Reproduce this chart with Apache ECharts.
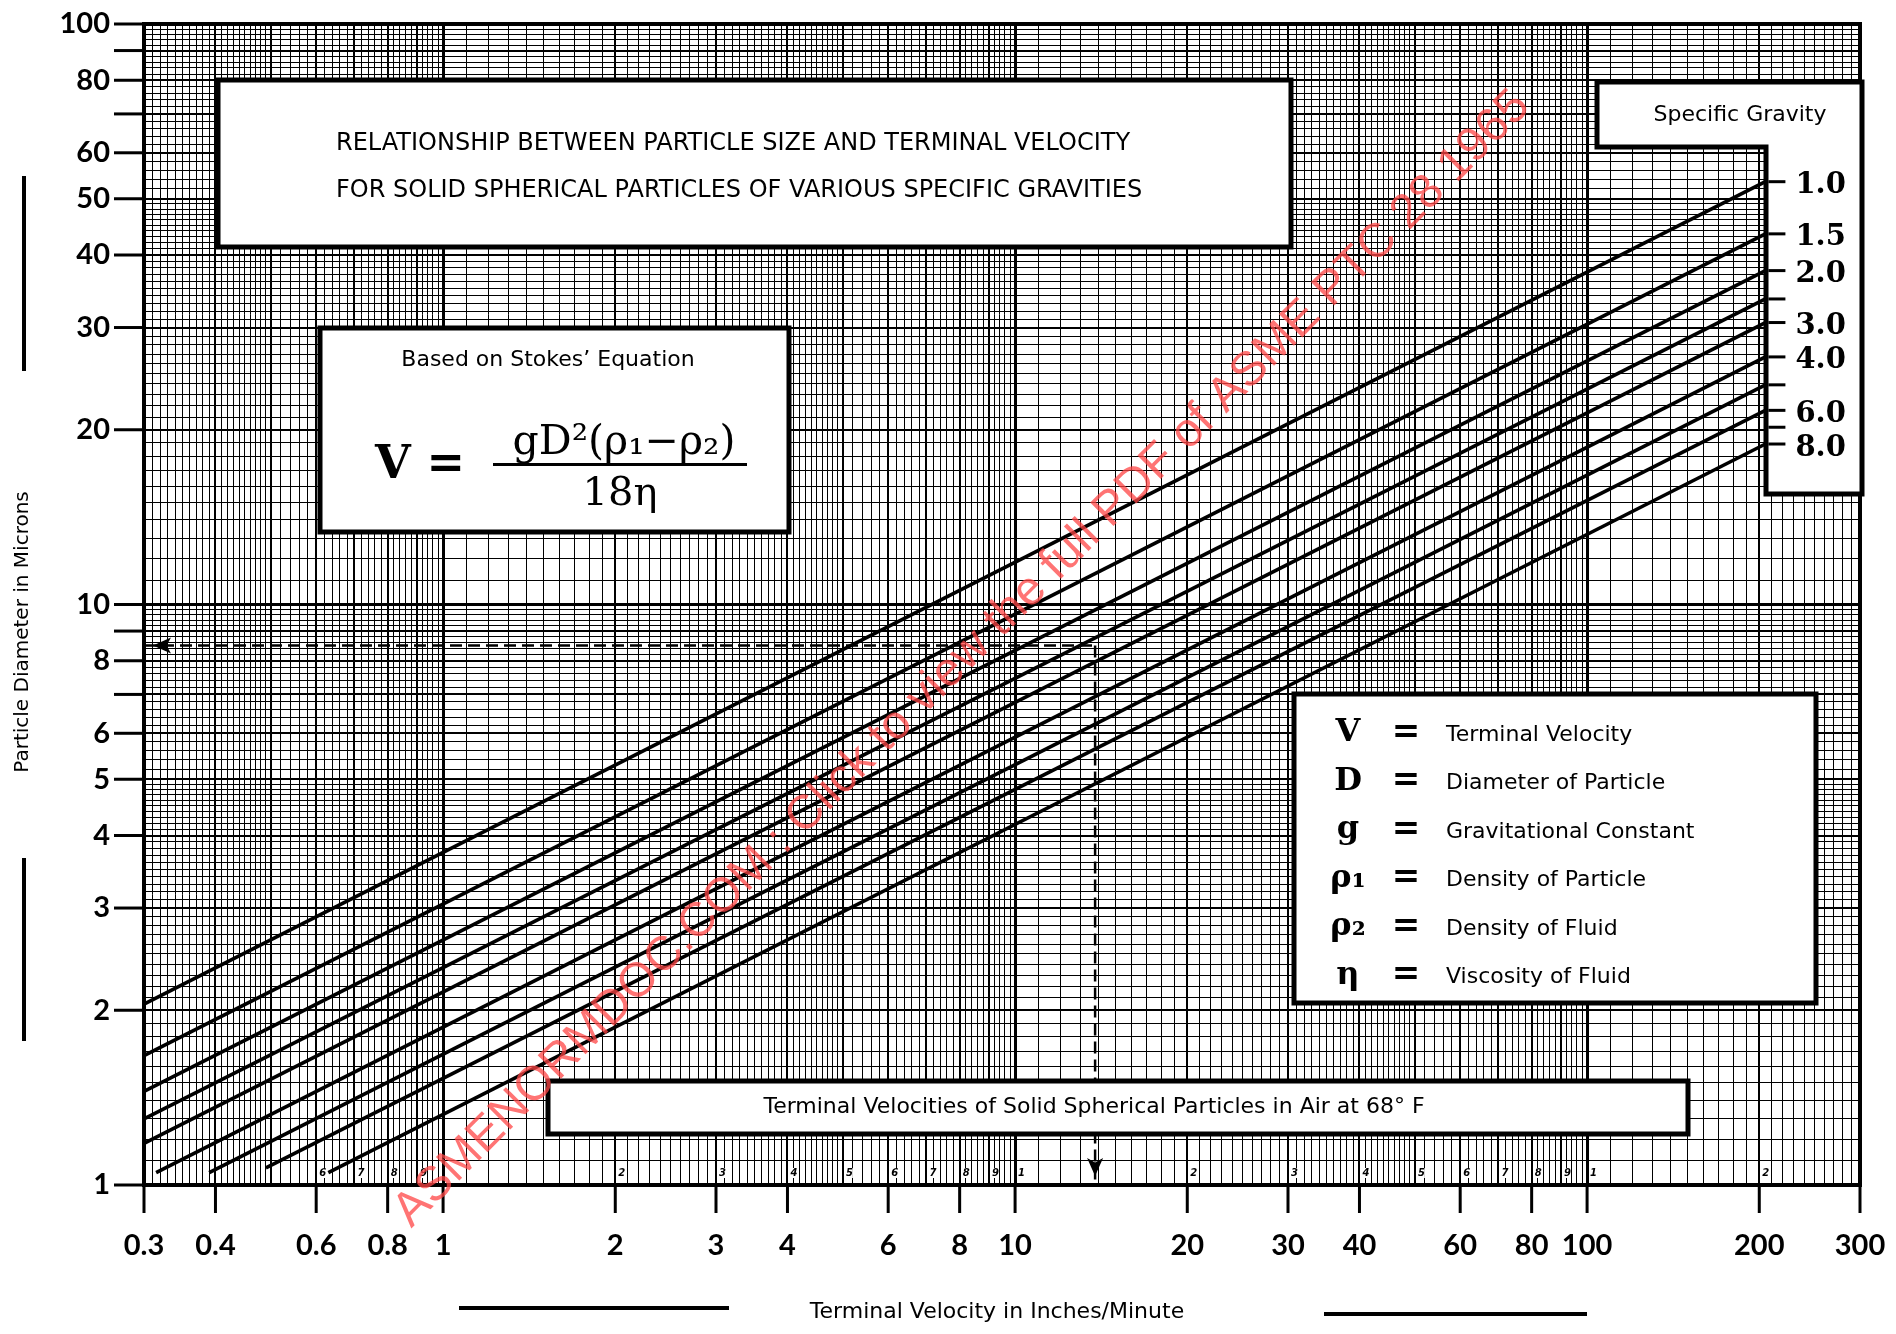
<!DOCTYPE html>
<html>
<head>
<meta charset="utf-8">
<title>Particle size vs terminal velocity</title>
<script src="https://cdn.jsdelivr.net/npm/echarts@6/dist/echarts.min.js"></script>
<style>
html, body { margin: 0; padding: 0; background: #fff; }
#chart { width: 1896px; height: 1334px; }
</style>
</head>
<body>
<div id="chart"></div>
<script>
// axis ranges (log-log paper, 3 x 2 cycles)
const xMin = 0.3, xMax = 300;
const yMin = 1, yMax = 100;

// ticks outside the plot
const xTicks = [0.3, 0.4, 0.6, 0.8, 1, 2, 3, 4, 6, 8, 10, 20, 30, 40, 60, 80, 100, 200, 300];
const yTicks = [1, 2, 3, 4, 5, 6, 7, 8, 9, 10, 20, 30, 40, 50, 60, 70, 80, 90, 100];
const yUnlabelled = [7, 9, 70, 90];

// little digits printed on the paper along the bottom
const paperDigits = [0.6, 0.7, 0.8, 0.9, 2, 3, 4, 5, 6, 7, 8, 9, 10, 20, 30, 40, 50, 60, 70, 80, 90, 100, 200];

// specific gravity lines, start / end (velocity in/min, diameter microns)
const sgNames = ['1.0', '1.5', '2.0', '2.5', '3.0', '4.0', '5.0', '6.0', '8.0'];
const startV = [0.3, 0.3, 0.3, 0.3, 0.3, 0.315, 0.39, 0.49, 0.63];
const startD = [2.05, 1.67, 1.45, 1.30, 1.18, 1.05, 1.05, 1.07, 1.05];
const endV = [205, 205, 205, 205, 205, 205, 205, 205, 205];
const endD = [53.5, 43.5, 37.6, 33.6, 30.6, 26.7, 23.9, 21.6, 18.9];

// specific gravity scale at the right
const sgTickLabels = ['1.0', '1.5', '2.0', '', '3.0', '4.0', '', '6.0', '', '8.0'];
const sgTickD = [53.5, 43.5, 37.6, 33.6, 30.6, 26.7, 23.9, 21.6, 20.2, 18.9];
const sgTickV = 205;

// dashed example reading
const exampleV = 13.8, exampleD = 8.5;

// legend of symbols
const legendSyms = ['V', 'D', 'g', 'ρ₁', 'ρ₂', 'η'];
const legendText = ['Terminal Velocity', 'Diameter of Particle', 'Gravitational Constant',
  'Density of Particle', 'Density of Fluid', 'Viscosity of Fluid'];

// graph paper rulings per decade: [from, to, step] of the mantissa
const paperSteps = [[1, 2, 0.1], [2, 5, 0.1], [5, 10, 0.2]];

function paperLines(lo, hi) {
  const out = [];
  for (let e = Math.floor(Math.log10(lo)); Math.pow(10, e) < hi; e++) {
    const dec = Math.pow(10, e);
    paperSteps.forEach(([a, b, s]) => {
      const n = Math.round((b - a) / s);
      for (let k = 0; k < n; k++) {
        const m = a + k * s;
        const v = parseFloat((m * dec).toPrecision(6));
        if (v < lo * 0.9999 || v > hi * 1.0001) continue;
        let w = 1;
        if (Math.abs(m - 1) < 1e-9) w = 3;
        else if (Math.abs(m - Math.round(m)) < 1e-9) w = 2;
        out.push([v, w]);
      }
    });
  }
  return out;
}

function crisp(p, w) {
  return w % 2 === 1 ? Math.round(p - 0.5) + 0.5 : Math.round(p);
}

const labelFont = 'bold 29px Lato';
const smallFont = '22px "DejaVu Sans"';

const series = [];

// vertical rulings
series.push({
  type: 'custom', silent: true, z: 1,
  data: paperLines(xMin, xMax).map(([v, w]) => [v, yMin, w]),
  renderItem: (params, api) => {
    const cs = params.coordSys;
    const w = api.value(2);
    const x = crisp(api.coord([api.value(0), yMin])[0], w);
    return { type: 'line', shape: { x1: x, y1: cs.y, x2: x, y2: cs.y + cs.height },
      style: { stroke: '#000', lineWidth: w } };
  }
});

// horizontal rulings
series.push({
  type: 'custom', silent: true, z: 1,
  data: paperLines(yMin, yMax).map(([v, w]) => [xMin, v, w]),
  renderItem: (params, api) => {
    const cs = params.coordSys;
    const w = api.value(2);
    const y = crisp(api.coord([xMin, api.value(1)])[1], w);
    return { type: 'line', shape: { x1: cs.x, y1: y, x2: cs.x + cs.width, y2: y },
      style: { stroke: '#000', lineWidth: w } };
  }
});

// paper digits along the bottom
series.push({
  type: 'custom', silent: true, z: 3,
  data: paperDigits.map(v => [v, yMin]),
  renderItem: (params, api) => {
    const v = api.value(0);
    const p = api.coord([v, yMin]);
    const d = Math.round(v / Math.pow(10, Math.floor(Math.log10(v) + 1e-9)));
    return { type: 'text', x: p[0] + 3, y: p[1] - 12,
      style: { text: String(d), font: 'italic bold 10px "DejaVu Sans"', fill: '#000',
        backgroundColor: '#fff', align: 'left', verticalAlign: 'middle' } };
  }
});

// specific gravity lines
sgNames.forEach((name, i) => {
  series.push({
    type: 'line', name: name, z: 5, showSymbol: false, silent: true,
    data: [[startV[i], startD[i]], [endV[i], endD[i]]],
    lineStyle: { color: '#000', width: 3.6 }
  });
});

// dashed example: across from the diameter, then down to the velocity
series.push({
  type: 'line', z: 5, silent: true, showSymbol: true,
  data: [
    { value: [xMin, exampleD], symbol: 'arrow', symbolSize: [12, 18], symbolRotate: 90, symbolOffset: [9, 0] },
    { value: [exampleV, exampleD], symbol: 'none' }
  ],
  itemStyle: { color: '#000' },
  lineStyle: { color: '#000', width: 2.5, type: [12, 6] }
});
series.push({
  type: 'line', z: 5, silent: true, showSymbol: true,
  data: [
    { value: [exampleV, exampleD], symbol: 'none' },
    { value: [exampleV, yMin], symbol: 'arrow', symbolSize: [12, 18], symbolRotate: 180, symbolOffset: [0, -9] }
  ],
  itemStyle: { color: '#000' },
  lineStyle: { color: '#000', width: 2.5, type: [12, 6] }
});

// x ticks and labels
series.push({
  type: 'custom', silent: true, z: 6,
  data: xTicks.map(v => [v, yMin]),
  renderItem: (params, api) => {
    const v = api.value(0);
    const p = api.coord([v, yMin]);
    return { type: 'group', children: [
      { type: 'line', shape: { x1: p[0], y1: p[1], x2: p[0], y2: p[1] + 28 }, style: { stroke: '#000', lineWidth: 3 } },
      { type: 'text', x: p[0], y: p[1] + 61,
        style: { text: String(v), font: labelFont, fill: '#000', align: 'center', verticalAlign: 'middle' } }
    ] };
  }
});

// y ticks and labels
series.push({
  type: 'custom', silent: true, z: 6,
  data: yTicks.map(v => [xMin, v]),
  renderItem: (params, api) => {
    const v = api.value(1);
    const p = api.coord([xMin, v]);
    const kids = [{ type: 'line', shape: { x1: p[0] - 30, y1: p[1], x2: p[0], y2: p[1] }, style: { stroke: '#000', lineWidth: 3 } }];
    if (yUnlabelled.indexOf(v) < 0) {
      kids.push({ type: 'text', x: p[0] - 34, y: p[1],
        style: { text: String(v), font: labelFont, fill: '#000', align: 'right', verticalAlign: 'middle' } });
    }
    return { type: 'group', children: kids };
  }
});

// specific gravity scale (drawn over the white box)
series.push({
  type: 'custom', silent: true, z: 150,
  data: sgTickD.map((d, i) => [sgTickV, d, i]),
  renderItem: (params, api) => {
    const p = api.coord([api.value(0), api.value(1)]);
    const lab = sgTickLabels[api.value(2)];
    return { type: 'group', children: [
      { type: 'line', shape: { x1: p[0] + 3, y1: p[1], x2: p[0] + 20, y2: p[1] }, style: { stroke: '#000', lineWidth: 3 } },
      { type: 'text', x: p[0] + 30, y: p[1] + 4,
        style: { text: lab, font: 'bold 29px "DejaVu Serif"', fill: '#000', align: 'left', verticalAlign: 'middle' } }
    ] };
  }
});

function box(x, y, w, h) {
  return { type: 'rect', z: 100, silent: true, shape: { x: x, y: y, width: w, height: h },
    style: { fill: '#fff', stroke: '#000', lineWidth: 5 } };
}
function txt(x, y, text, font, align, extra) {
  return Object.assign({ type: 'text', z: 101, silent: true, x: x, y: y,
    style: { text: text, font: font, fill: '#000', align: align || 'left', verticalAlign: 'middle',
      textAlign: align || 'left', textVerticalAlign: 'middle' } }, extra || {});
}

const graphic = [
  // title box
  box(218, 80, 1073, 167),
  txt(336, 144, 'RELATIONSHIP BETWEEN PARTICLE SIZE AND TERMINAL VELOCITY', '24px "DejaVu Sans"'),
  txt(336, 191, 'FOR SOLID SPHERICAL PARTICLES OF VARIOUS SPECIFIC GRAVITIES', '24px "DejaVu Sans"'),
  // Stokes box
  box(320, 328, 469, 204),
  txt(548, 360, 'Based on Stokes\u2019 Equation', smallFont, 'center'),
  txt(420, 466, 'V =', 'bold 46px "DejaVu Serif"', 'center'),
  txt(624, 443, 'gD²(ρ₁−ρ₂)', '41px "DejaVu Serif"', 'center'),
  { type: 'rect', z: 101, silent: true, shape: { x: 493, y: 463, width: 254, height: 3 }, style: { fill: '#000' } },
  txt(620, 495, '18η', '40px "DejaVu Serif"', 'center'),
  // specific gravity box
  { type: 'polygon', z: 100, silent: true,
    shape: { points: [[1597, 82], [1862, 82], [1862, 494], [1766, 494], [1766, 147], [1597, 147]] },
    style: { fill: '#fff', stroke: '#000', lineWidth: 5 } },
  txt(1740, 115, 'Specific Gravity', smallFont, 'center'),
  // symbol legend
  box(1294, 694, 522, 309),
  // bottom caption
  box(548, 1081, 1140, 53),
  txt(1094, 1107, 'Terminal Velocities of Solid Spherical Particles in Air at 68° F', smallFont, 'center'),
  // axis titles and the bars beside them
  txt(997, 1312, 'Terminal Velocity in Inches/Minute', smallFont, 'center'),
  { type: 'rect', silent: true, shape: { x: 459, y: 1306, width: 270, height: 4 }, style: { fill: '#000' } },
  { type: 'rect', silent: true, shape: { x: 1324, y: 1312, width: 263, height: 4 }, style: { fill: '#000' } },
  txt(23, 632, 'Particle Diameter in Microns', '20px "DejaVu Sans"', 'center', { rotation: Math.PI / 2 }),
  { type: 'rect', silent: true, shape: { x: 22, y: 176, width: 4, height: 195 }, style: { fill: '#000' } },
  { type: 'rect', silent: true, shape: { x: 22, y: 858, width: 4, height: 183 }, style: { fill: '#000' } },
  // watermark
  { type: 'text', z: 200, silent: true, x: 962, y: 659, rotation: Math.PI / 4,
    style: { text: 'ASMENORMDOC.COM : Click to view the full PDF of ASME PTC 28 1965',
      font: '48px "Liberation Sans"', fill: 'rgba(255,70,70,0.75)',
      align: 'center', verticalAlign: 'middle', textAlign: 'center', textVerticalAlign: 'middle' } }
];

legendSyms.forEach((s, i) => {
  const y = 733 + i * 48.5;
  graphic.push(txt(1348, y, s, 'bold 32px "DejaVu Serif"', 'center'));
  graphic.push(txt(1406, y, '=', 'bold 34px "DejaVu Sans"', 'center'));
  graphic.push(txt(1446, y + 2, legendText[i], smallFont, 'left'));
});

const chart = echarts.init(document.getElementById('chart'));
chart.setOption({
  backgroundColor: '#fff',
  animation: false,
  grid: { left: 144, right: 36, top: 24, bottom: 149, show: true, borderColor: '#000', borderWidth: 4, backgroundColor: '#fff' },
  xAxis: {
    type: 'log', logBase: 10, min: xMin, max: xMax,
    axisLine: { show: true, onZero: false, lineStyle: { color: '#000', width: 4 } },
    axisTick: { show: false }, axisLabel: { show: false }, splitLine: { show: false }
  },
  yAxis: {
    type: 'log', logBase: 10, min: yMin, max: yMax,
    axisLine: { show: true, onZero: false, lineStyle: { color: '#000', width: 4 } },
    axisTick: { show: false }, axisLabel: { show: false }, splitLine: { show: false }
  },
  graphic: graphic,
  series: series
});
window.addEventListener('resize', function () { chart.resize(); });
</script>
</body>
</html>
